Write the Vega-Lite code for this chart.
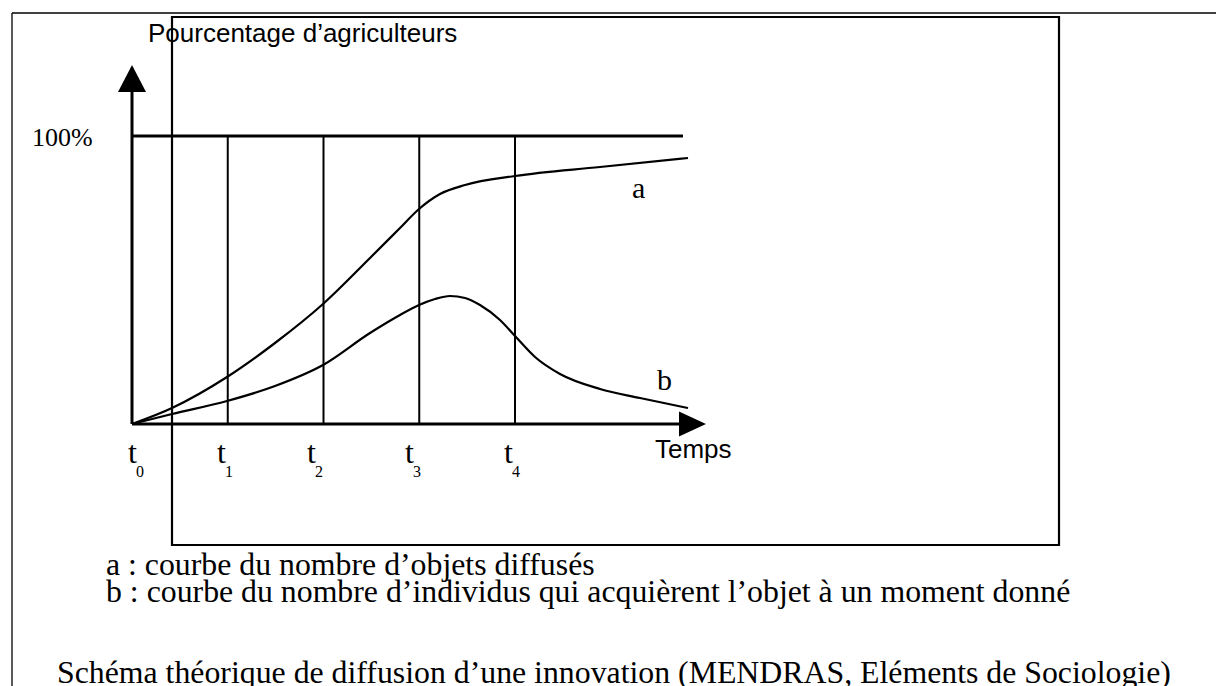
{
  "$schema": "https://vega.github.io/schema/vega-lite/v6.json",
  "width": 1216,
  "height": 686,
  "autosize": {"type": "none"},
  "padding": 0,
  "background": "white",
  "config": {"view": {"stroke": null}},
  "datasets": {
    "frame": [
      {"x": -1.2533, "x2": 11.3211, "y": 142.71, "y2": 142.71},
      {"x": -1.2533, "x2": -1.2533, "y": 142.71, "y2": -90.97}
    ],
    "box": [{"x": 0.4178, "x2": 9.6815, "y": 141.32, "y2": -42.01}],
    "axes": [
      {"x": 0, "x2": 0, "y": 0, "y2": 117},
      {"x": 0, "x2": 5.83, "y": 0, "y2": 0},
      {"x": 0, "x2": 5.7546, "y": 100, "y2": 100}
    ],
    "verticals": [
      {"x": 1, "x2": 1, "y": 0, "y2": 100},
      {"x": 2, "x2": 2, "y": 0, "y2": 100},
      {"x": 3, "x2": 3, "y": 0, "y2": 100},
      {"x": 4, "x2": 4, "y": 0, "y2": 100}
    ],
    "curves": [
      {"s": "a", "x": 0, "y": 0},
      {"s": "a", "x": 0.4178, "y": 5.556},
      {"s": "a", "x": 0.9922, "y": 16.319},
      {"s": "a", "x": 1.4935, "y": 28.125},
      {"s": "a", "x": 1.9948, "y": 41.667},
      {"s": "a", "x": 2.4856, "y": 57.639},
      {"s": "a", "x": 2.799, "y": 68.056},
      {"s": "a", "x": 2.9974, "y": 74.653},
      {"s": "a", "x": 3.2167, "y": 79.861},
      {"s": "a", "x": 3.4778, "y": 82.986},
      {"s": "a", "x": 4.0, "y": 86.111},
      {"s": "a", "x": 4.8877, "y": 89.236},
      {"s": "a", "x": 5.8068, "y": 92.361},
      {"s": "b", "x": 0, "y": 0},
      {"s": "b", "x": 0.4178, "y": 3.472},
      {"s": "b", "x": 0.9922, "y": 7.986},
      {"s": "b", "x": 1.4935, "y": 13.194},
      {"s": "b", "x": 1.9948, "y": 20.486},
      {"s": "b", "x": 2.4856, "y": 31.597},
      {"s": "b", "x": 2.799, "y": 37.847},
      {"s": "b", "x": 2.9974, "y": 41.319},
      {"s": "b", "x": 3.1645, "y": 43.403},
      {"s": "b", "x": 3.3211, "y": 44.444},
      {"s": "b", "x": 3.4778, "y": 43.75},
      {"s": "b", "x": 3.6345, "y": 41.319},
      {"s": "b", "x": 3.8433, "y": 36.111},
      {"s": "b", "x": 4.0, "y": 30.556},
      {"s": "b", "x": 4.2089, "y": 23.264},
      {"s": "b", "x": 4.47, "y": 17.361},
      {"s": "b", "x": 4.8877, "y": 12.153},
      {"s": "b", "x": 5.3055, "y": 9.028},
      {"s": "b", "x": 5.8068, "y": 5.556}
    ],
    "arrowUp": [{"x": 0, "y": 119.97}],
    "arrowRight": [{"x": 5.8538, "y": 0}],
    "sansText": [
      {"x": 0.1671, "y": 132.64, "text": "Pourcentage d’agriculteurs"},
      {"x": 5.462, "y": -11.81, "text": "Temps"}
    ],
    "serifSmall": [{"x": -1.0444, "y": 96.53, "text": "100%"}],
    "curveLabels": [
      {"x": 5.2219, "y": 78.47, "text": "a"},
      {"x": 5.483, "y": 11.81, "text": "b"}
    ],
    "ticks": [
      {"x": -0.0418, "y": -13.54, "sy": -18.4, "sub": "0"},
      {"x": 0.8877, "y": -13.54, "sy": -18.4, "sub": "1"},
      {"x": 1.8277, "y": -13.54, "sy": -18.4, "sub": "2"},
      {"x": 2.8512, "y": -13.54, "sy": -18.4, "sub": "3"},
      {"x": 3.8851, "y": -13.54, "sy": -18.4, "sub": "4"}
    ],
    "captions": [
      {"x": -0.2715, "y": -52.43, "text": "a : courbe du nombre d’objets diffusés"},
      {"x": -0.2715, "y": -61.81, "text": "b : courbe du nombre d’individus qui acquièrent l’objet à un moment donné"},
      {"x": -0.7833, "y": -89.93, "text": "Schéma théorique de diffusion d’une innovation (MENDRAS, Eléments de Sociologie)"}
    ]
  },
  "encoding": {
    "x": {"field": "x", "type": "quantitative", "scale": {"domain": [-1.3786, 11.3211], "nice": false, "zero": false}, "axis": null},
    "y": {"field": "y", "type": "quantitative", "scale": {"domain": [-90.97, 147.22], "nice": false, "zero": false}, "axis": null}
  },
  "layer": [
    {
      "data": {"name": "frame"},
      "mark": {"type": "rule", "color": "black", "strokeWidth": 1.3},
      "encoding": {"x2": {"field": "x2"}, "y2": {"field": "y2"}}
    },
    {
      "data": {"name": "box"},
      "mark": {"type": "rect", "fill": null, "fillOpacity": 0, "stroke": "black", "strokeWidth": 2.2},
      "encoding": {"x2": {"field": "x2"}, "y2": {"field": "y2"}}
    },
    {
      "data": {"name": "axes"},
      "mark": {"type": "rule", "color": "black", "strokeWidth": 3},
      "encoding": {"x2": {"field": "x2"}, "y2": {"field": "y2"}}
    },
    {
      "data": {"name": "verticals"},
      "mark": {"type": "rule", "color": "black", "strokeWidth": 2},
      "encoding": {"x2": {"field": "x2"}, "y2": {"field": "y2"}}
    },
    {
      "data": {"name": "curves"},
      "mark": {"type": "line", "color": "black", "strokeWidth": 2.2, "interpolate": "monotone"},
      "encoding": {"detail": {"field": "s", "type": "nominal"}, "order": {"field": "x", "type": "quantitative"}}
    },
    {
      "data": {"name": "arrowUp"},
      "mark": {"type": "point", "shape": "M0,-0.96L-1,0.96L1,0.96Z", "filled": true, "size": 784, "color": "black", "opacity": 1, "strokeWidth": 0}
    },
    {
      "data": {"name": "arrowRight"},
      "mark": {"type": "point", "shape": "M1,0L-1,-0.93L-1,0.93Z", "filled": true, "size": 729, "color": "black", "opacity": 1, "strokeWidth": 0}
    },
    {
      "data": {"name": "sansText"},
      "mark": {"type": "text", "font": "Liberation Sans", "fontSize": 26, "align": "left", "baseline": "alphabetic", "color": "black"},
      "encoding": {"text": {"field": "text"}}
    },
    {
      "data": {"name": "serifSmall"},
      "mark": {"type": "text", "font": "Liberation Serif", "fontSize": 26, "align": "left", "baseline": "alphabetic", "color": "black"},
      "encoding": {"text": {"field": "text"}}
    },
    {
      "data": {"name": "curveLabels"},
      "mark": {"type": "text", "font": "Liberation Serif", "fontSize": 30, "align": "left", "baseline": "alphabetic", "color": "black"},
      "encoding": {"text": {"field": "text"}}
    },
    {
      "data": {"name": "ticks"},
      "mark": {"type": "text", "font": "Liberation Serif", "fontSize": 32, "align": "left", "baseline": "alphabetic", "color": "black", "text": "t"}
    },
    {
      "data": {"name": "ticks"},
      "mark": {"type": "text", "font": "Liberation Serif", "fontSize": 16, "align": "left", "baseline": "alphabetic", "color": "black", "dx": 8},
      "encoding": {"y": {"field": "sy", "type": "quantitative"}, "text": {"field": "sub"}}
    },
    {
      "data": {"name": "captions"},
      "mark": {"type": "text", "font": "Liberation Serif", "fontSize": 31.8, "align": "left", "baseline": "alphabetic", "color": "black"},
      "encoding": {"text": {"field": "text"}}
    }
  ]
}
